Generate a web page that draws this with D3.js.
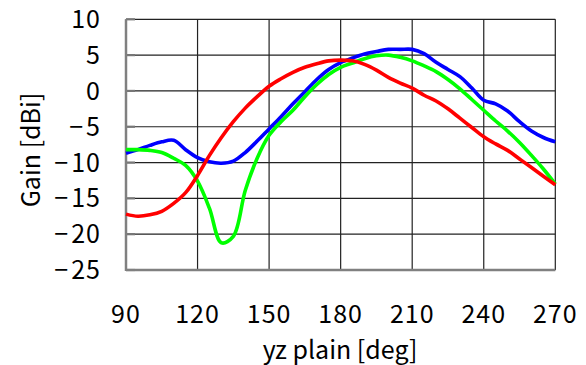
<!DOCTYPE html>
<html><head><meta charset="utf-8">
<script src="https://cdn.jsdelivr.net/npm/d3@7"></script>
<style>body{margin:0;background:#fff}svg{display:block}text{font-family:"Noto Sans CJK JP","Noto Sans",sans-serif;fill:#000}</style>
</head><body><svg id="c" width="586" height="365"></svg>
<script>
const angles = d3.range(90, 271, 5);
const blue  = [-8.7,-8.2,-7.6,-7.1,-6.9,-8.2,-9.3,-9.9,-10.1,-9.8,-8.6,-7.0,-5.3,-3.6,-1.8,-0.1,1.6,3.0,3.95,4.6,5.15,5.5,5.8,5.8,5.8,5.2,4.0,3.0,2.0,0.4,-1.3,-1.8,-2.8,-4.3,-5.6,-6.5,-7.1];
const green = [-8.2,-8.2,-8.3,-8.6,-9.4,-10.4,-12.6,-16.4,-21.2,-20.3,-13.9,-9.4,-6.2,-4.3,-2.7,-0.8,0.9,2.3,3.3,3.9,4.5,4.9,5.0,4.7,4.2,3.5,2.7,1.6,0.3,-1.2,-2.7,-4.2,-5.6,-7.2,-9.0,-10.9,-13.0];
const red   = [-17.2,-17.5,-17.3,-16.8,-15.7,-14.2,-11.8,-9.0,-6.5,-4.3,-2.4,-0.8,0.65,1.7,2.6,3.3,3.8,4.2,4.3,4.2,3.7,2.9,1.9,1.1,0.4,-0.6,-1.4,-2.5,-3.8,-5.1,-6.4,-7.4,-8.3,-9.5,-10.7,-11.9,-13.1];
const xTicks = [90,120,150,180,210,240,270];
const yTicks = [10,5,0,-5,-10,-15,-20,-25];
const series = [{name:"blue",values:blue,color:"#0000ff"},{name:"green",values:green,color:"#00ff00"},{name:"red",values:red,color:"#ff0000"}];

const svg = d3.select("#c");
const L=126, R=555.3, T=19.3, B=270;
const x = d3.scaleLinear().domain([90,270]).range([L,R]);
const y = d3.scaleLinear().domain([-25,10]).range([B,T]);

svg.append("g").selectAll("line").data(yTicks).join("line")
  .attr("x1",L).attr("x2",R).attr("y1",d=>y(d)).attr("y2",d=>y(d))
  .attr("stroke","#222").attr("stroke-width",1.2);
svg.append("g").selectAll("line").data(xTicks).join("line")
  .attr("y1",T).attr("y2",B).attr("x1",d=>x(d)).attr("x2",d=>x(d))
  .attr("stroke","#222").attr("stroke-width",1.2);
svg.append("g").selectAll("line").data(yTicks).join("line")
  .attr("x1",L).attr("x2",L+9).attr("y1",d=>y(d)).attr("y2",d=>y(d))
  .attr("stroke","#777").attr("stroke-width",2.2);
svg.append("line").attr("x1",L).attr("x2",L).attr("y1",T).attr("y2",B+1).attr("stroke","#808080").attr("stroke-width",2.5);
svg.append("line").attr("x1",L).attr("x2",R).attr("y1",B).attr("y2",B).attr("stroke","#808080").attr("stroke-width",2.5);

const yl = svg.append("g").selectAll("text").data(yTicks).join("text")
  .attr("x",101).attr("y",d=>y(d)).attr("dy","0.36em").attr("text-anchor","end")
  .attr("font-size",25);
yl.filter(d=>d<0).append("tspan").attr("dx",0).text("\u2212").style("letter-spacing","3px");
yl.append("tspan").text(d=>Math.abs(d)).style("letter-spacing","1px");
svg.append("g").selectAll("text").data(xTicks).join("text")
  .attr("x",d=>x(d)).attr("y",314).attr("dy","0.36em").attr("text-anchor","middle")
  .attr("font-size",25).style("letter-spacing","1px").text(d=>d);
svg.append("text").attr("x",340).attr("y",350).attr("dy","0.36em").attr("text-anchor","middle")
  .attr("font-size",25).text("yz plain [deg]");
svg.append("text").attr("transform","translate(31,150) rotate(-90)").attr("dy","0.36em").attr("text-anchor","middle")
  .attr("font-size",25).text("Gain [dBi]");

const line = d3.line().x((d,i)=>x(angles[i])).y(d=>y(d)).curve(d3.curveCatmullRom.alpha(0.5));
svg.append("g").selectAll("path").data(series).join("path")
  .attr("d",s=>line(s.values)).attr("fill","none").attr("stroke",s=>s.color)
  .attr("stroke-width",3.6).attr("stroke-linejoin","round");
</script></body></html>
